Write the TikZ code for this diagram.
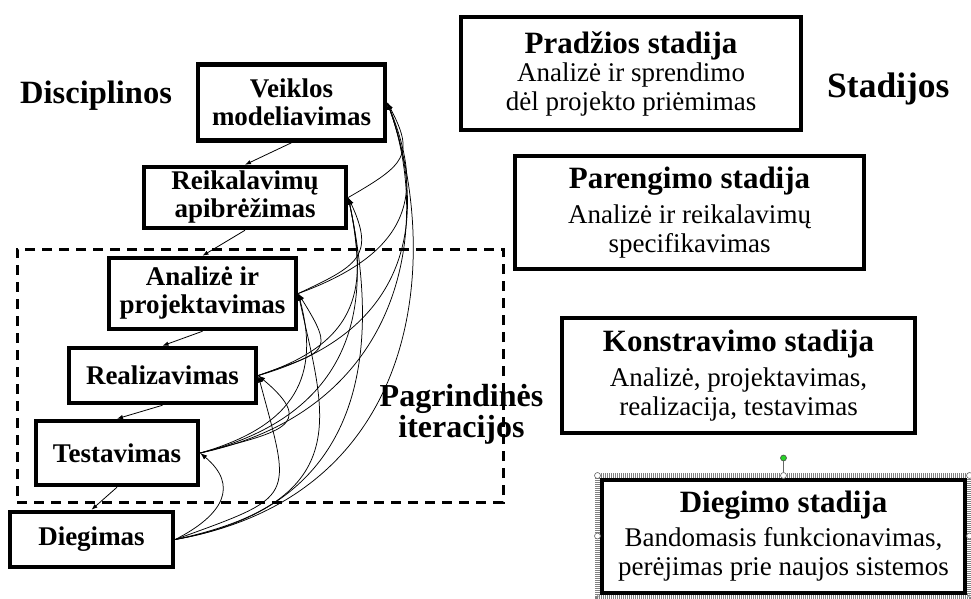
\documentclass[tikz,border=0pt]{standalone}
\usepackage{fontspec}
\setmainfont{Liberation Serif}
\usetikzlibrary{arrows.meta}
\definecolor{handlegreen}{RGB}{40,210,40}
\newcommand\stagetitle[1]{{\fontsize{31}{31}\selectfont\bfseries #1}}
\begin{document}
\begin{tikzpicture}[x=1pt,y=1pt,
  discbox/.style={draw, line width=4.5pt, align=center, inner sep=0pt,
    font=\fontsize{27}{28}\selectfont\bfseries},
  stagebox/.style={draw, line width=4pt, align=center, inner sep=0pt,
    font=\fontsize{27}{29}\selectfont},
  flow/.style={-{Latex[length=6pt,width=4.5pt]}, line width=0.8pt},
  back/.style={-{Latex[length=7pt,width=5pt]}, line width=0.75pt},
  heading/.style={inner sep=0pt, font=\fontsize{32.5}{31}\selectfont\bfseries},
  handle/.style={circle, draw=black!60, fill=white, line width=0.6pt,
    minimum size=6pt, inner sep=0pt}
]
\useasboundingbox (0,0) rectangle (971,-599);

% frame around the main iterations
\node[draw, line width=3pt, dash pattern=on 10pt off 7pt,
  minimum width=486pt, minimum height=253pt, inner sep=0pt] (iter) at (260,-375.5) {};

% disciplines
\node[discbox, minimum width=187pt, minimum height=76pt] (V)  at (291.5,-102.5) {Veiklos\\modeliavimas};
\node[discbox, minimum width=202pt, minimum height=61pt] (R)  at (245,-197.5)   {Reikalavimų\\apibrėžimas};
\node[discbox, minimum width=187pt, minimum height=71pt] (A)  at (202.5,-293.5) {Analizė ir\\projektavimas};
\node[discbox, minimum width=187pt, minimum height=55pt] (Rz) at (162.5,-375.5) {Realizavimas};
\node[discbox, minimum width=162pt, minimum height=64pt] (T)  at (117,-453)     {Testavimas};
\node[discbox, minimum width=163pt, minimum height=55pt] (D)  at (91.5,-539.5)  {Diegimas};

% headings
\node[heading, anchor=base west] (disc) at (20,-103) {Disciplinos};
\node[heading, font=\fontsize{35.5}{36}\selectfont\bfseries, anchor=base west] (stad) at (827,-98) {Stadijos};
\node[heading, font=\fontsize{32}{31}\selectfont\bfseries, align=center] (iterlabel) at (461.5,-414) {Pagrindinės\\iteracijos};

% selection frame of the last stage box
\draw[black!50, line width=4.5pt, dash pattern=on 1pt off 1pt] (597.5,-475.5) rectangle (969.5,-596.5);

% stages
\node[stagebox, minimum width=340pt, minimum height=113pt] (P)  at (631,-73.5)
  {\stagetitle{Pradžios stadija}\\[-1pt]Analizė ir sprendimo\\dėl projekto priėmimas};
\node[stagebox, minimum width=349pt, minimum height=113pt] (Pa) at (689.5,-212.5)
  {\stagetitle{Parengimo stadija}\\[6pt]Analizė ir reikalavimų\\specifikavimas};
\node[stagebox, minimum width=353pt, minimum height=115pt] (K)  at (738.5,-375.5)
  {\stagetitle{Konstravimo stadija}\\[6pt]Analizė, projektavimas,\\realizacija, testavimas};
\node[stagebox, minimum width=363pt, minimum height=113pt] (Dg) at (783.5,-536.5)
  {\stagetitle{Diegimo stadija}\\[5pt]Bandomasis funkcionavimas,\\perėjimas prie naujos sistemos};

% selection handles
\node[handle] (hnw) at (597.5,-475.5) {};
\node[handle] (hn)  at (783.5,-475.5) {};
\node[handle] (hne) at (969.5,-475.5) {};
\node[handle] (hw)  at (597.5,-536) {};
\node[handle] (he)  at (969.5,-536) {};
\node[handle, fill=handlegreen, draw=black!70] (hrot) at (783.5,-458) {};
\draw[black!60, line width=0.8pt] (hrot) -- (hn);

% sequence of disciplines
\draw[flow] (V.south)  -- (R.north);
\draw[flow] (R.south)  -- (A.north);
\draw[flow] (A.south)  -- (Rz.north);
\draw[flow] (Rz.south) -- (T.north);
\draw[flow] (T.south)  -- (D.north);

% feedback to earlier disciplines
\draw[back] (R.east)  to[out=30,in=-62,out distance=65pt,in distance=60pt]   (V.east);
\draw[back] (A.east)  to[out=20,in=-68,out distance=125pt,in distance=95pt]  (V.east);
\draw[back] (Rz.east) to[out=16,in=-70,out distance=165pt,in distance=115pt] (V.east);
\draw[back] (T.east)  to[out=12,in=-70,out distance=210pt,in distance=130pt] (V.east);
\draw[back] (D.east)  to[out=10,in=-70,out distance=260pt,in distance=150pt] (V.east);

\draw[back] (A.east)  to[out=25,in=-65,distance=65pt] (R.east);
\draw[back] (Rz.east) to[out=18,in=-78,out distance=110pt,in distance=90pt]  (R.east);
\draw[back] (T.east)  to[out=14,in=-78,out distance=160pt,in distance=110pt] (R.east);
\draw[back] (D.east)  to[out=10,in=-78,out distance=210pt,in distance=130pt] (R.east);

\draw[back] (Rz.east) to[out=20,in=-58,distance=72pt] (A.east);
\draw[back] (T.east)  to[out=16,in=-75,out distance=100pt,in distance=85pt]  (A.east);
\draw[back] (D.east)  to[out=12,in=-78,out distance=190pt,in distance=120pt] (A.east);

\draw[back] (T.east)  to[out=15,in=-40,distance=80pt] (Rz.east);
\draw[back] (D.east)  to[out=20,in=-75,distance=130pt] (Rz.east);

\draw[back] (D.east)  to[out=27,in=-40,out distance=55pt,in distance=50pt] (T.east);
\end{tikzpicture}
\end{document}
